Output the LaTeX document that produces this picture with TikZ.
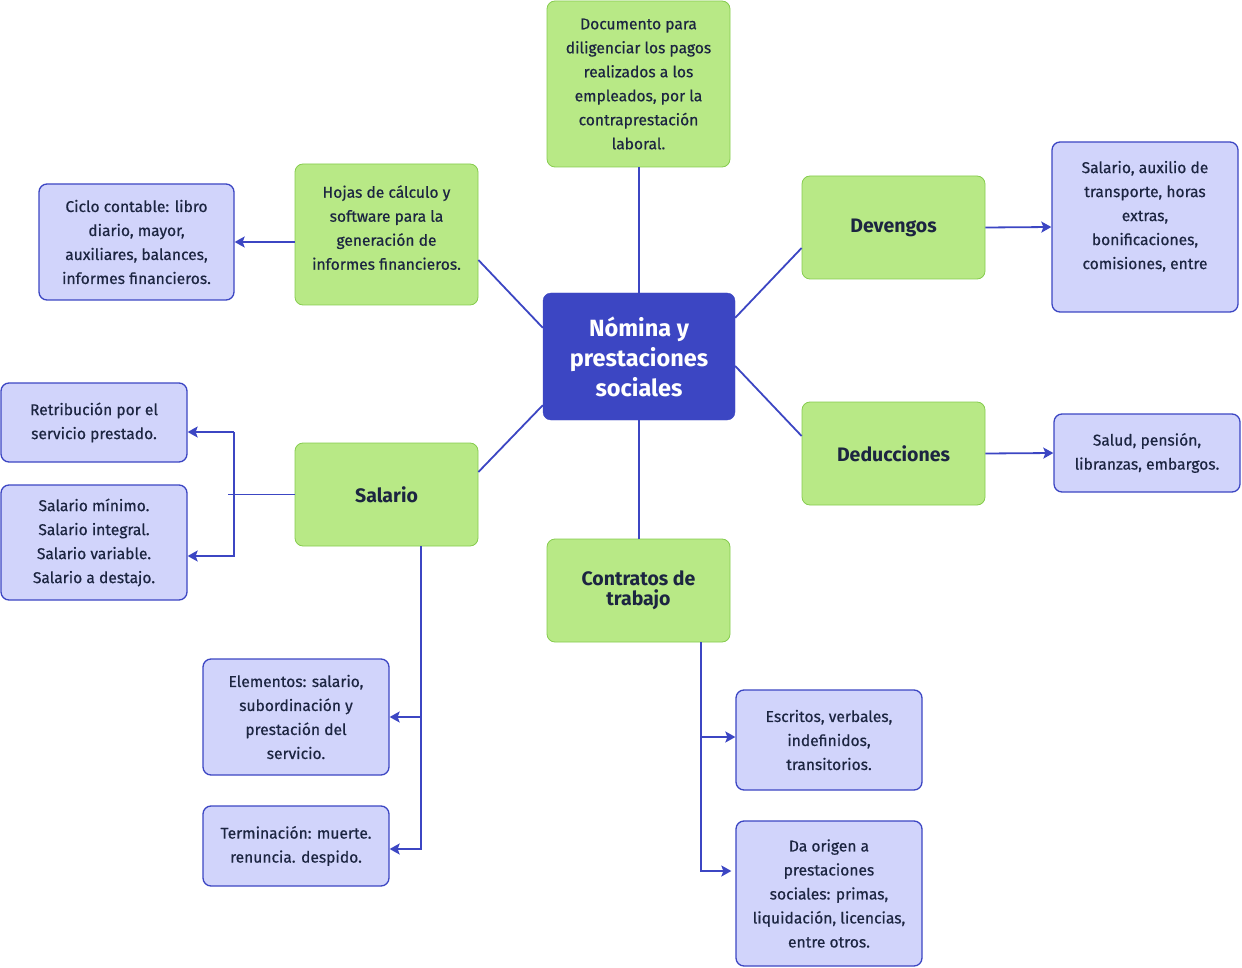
\documentclass[tikz,border=0pt]{standalone}
\usepackage{fontspec}
\setmainfont{Fira Sans}
\newfontfamily\boxfont{Fira Sans}[FakeBold=0.5]
\usetikzlibrary{arrows.meta, positioning}

\definecolor{hubblue}{HTML}{3C46C3}
\definecolor{leafgreen}{HTML}{B8E986}
\definecolor{leafedge}{HTML}{86CC4E}
\definecolor{lavender}{HTML}{D1D4FB}
\definecolor{inktext}{HTML}{1C2541}

\begin{document}
\begin{tikzpicture}[
         x=1pt, y=-1pt,
         hub/.style={rectangle, rounded corners=8pt, fill=hubblue, draw=hubblue,
            text=white, font=\fontsize{23.5}{30}\selectfont\bfseries, align=center,
            minimum width=192pt, minimum height=127pt, inner sep=0pt},
         topic/.style={rectangle, rounded corners=8pt, fill=leafgreen, draw=leafedge,
            line width=0.8pt, text=inktext, align=center, inner sep=0pt,
            font=\fontsize{15.6}{24}\boxfont, minimum width=183pt},
         title/.style={topic, minimum height=103pt, font=\fontsize{19.5}{20}\selectfont\bfseries},
         detail/.style={rectangle, rounded corners=8pt, fill=lavender, draw=hubblue,
            line width=1.3pt, text=inktext, align=center, inner sep=0pt,
            font=\fontsize{15.6}{24}\boxfont, minimum width=186pt},
         link/.style={draw=hubblue, line width=1.8pt},
         arrow/.style={link, -{Stealth[length=10pt, width=11pt, inset=2pt]}}
      ]
         \useasboundingbox (0,0) rectangle (1242,968);

         % Central node
         \node[hub] (hub) at (639,356.5) {Nómina y\\prestaciones\\sociales};

         % Nodes for topics
         \node[topic, minimum height=166pt] (doc) at (638.5,84)
            {Documento para\\diligenciar los pagos\\realizados a los\\empleados, por la\\contraprestación\\laboral.};
         \node[topic, minimum height=141pt] (hojas) at (386.5,234.5)
            {Hojas de cálculo y\\software para la\\generación de\\informes financieros.\\[-10pt]\mbox{}};
         \node[title] (devengos) at (893.5,227.5) {Devengos};
         \node[title] (deducciones) at (893.5,453.5) {Deducciones};
         \node[title] (salario) at (386.5,494.5) {Salario};
         \node[title] (contratos) at (638.5,590.5) {Contratos de\\trabajo};

         % Nodes for details
         \node[detail, minimum width=195pt, minimum height=116pt] (ciclo) at (136.5,242)
            {Ciclo contable: libro\\diario, mayor,\\auxiliares, balances,\\informes financieros.};
         \node[detail, minimum height=170pt] (devlist) at (1145,227)
            {Salario, auxilio de\\transporte, horas\\extras,\\bonificaciones,\\comisiones, entre\\\mbox{}};
         \node[detail, minimum height=78pt] (dedlist) at (1147,453)
            {Salud, pensión,\\libranzas, embargos.};
         \node[detail, minimum height=79pt] (retrib) at (94,422.5)
            {Retribución por el\\servicio prestado.};
         \node[detail, minimum height=115pt] (tipos) at (94,542.5)
            {Salario mínimo.\\Salario integral.\\Salario variable.\\Salario a destajo.};
         \node[detail, minimum height=116pt] (elementos) at (296,717)
            {Elementos: salario,\\subordinación y\\prestación del\\servicio.};
         \node[detail, minimum height=80pt] (termina) at (296,846)
            {Terminación: muerte.\\renuncia. despido.};
         \node[detail, minimum height=100pt] (escritos) at (829,740)
            {Escritos, verbales,\\indefinidos,\\transitorios.};
         \node[detail, minimum height=145pt] (origen) at (829,893.5)
            {Da origen a\\prestaciones\\sociales: primas,\\liquidación, licencias,\\entre otros.};

         % Links from the centre
         \draw[link] (hub.north) -- (hub.north |- doc.south);
         \draw[link] ([yshift=-35pt]hub.north west) -- ([yshift=-25.5pt]hojas.east);
         \draw[link] ([yshift=-25pt]hub.north east) -- ([yshift=-20.5pt]devengos.west);
         \draw[link] ([yshift=-9.5pt]hub.east) -- ([yshift=17.5pt]deducciones.west);
         \draw[link] ([yshift=15pt]hub.south west) -- ([yshift=22.5pt]salario.east);
         \draw[link] (hub.south) -- (hub.south |- contratos.north);

         % Arrows to details
         \draw[arrow] (hojas.west |- ciclo.east) -- (ciclo.east);
         \draw[arrow] (devengos.east) -- (devlist.west);
         \draw[arrow] (deducciones.east) -- (dedlist.west);

         \coordinate (sj) at ([xshift=-61pt]salario.west);
         \coordinate (r1) at ([yshift=-9.5pt]retrib.east);
         \coordinate (r2) at ([yshift=-13.5pt]tipos.east);
         \draw[link] (salario.west) -- ([xshift=-6pt]sj);
         \draw[arrow] (r1 -| sj) -- (r1);
         \draw[arrow] (r1 -| sj) |- (r2);

         \coordinate (sb) at ([xshift=34.5pt]salario.south);
         \draw[arrow] (sb) |- (elementos.east);
         \draw[arrow] (sb) |- ([yshift=-3pt]termina.east);

         \coordinate (cb) at ([xshift=62.5pt]contratos.south);
         \draw[arrow] (cb) |- ([yshift=3pt]escritos.west);
         \draw[arrow] (cb) |- ([yshift=22.5pt, xshift=-4pt]origen.west);
      \end{tikzpicture}
\end{document}
